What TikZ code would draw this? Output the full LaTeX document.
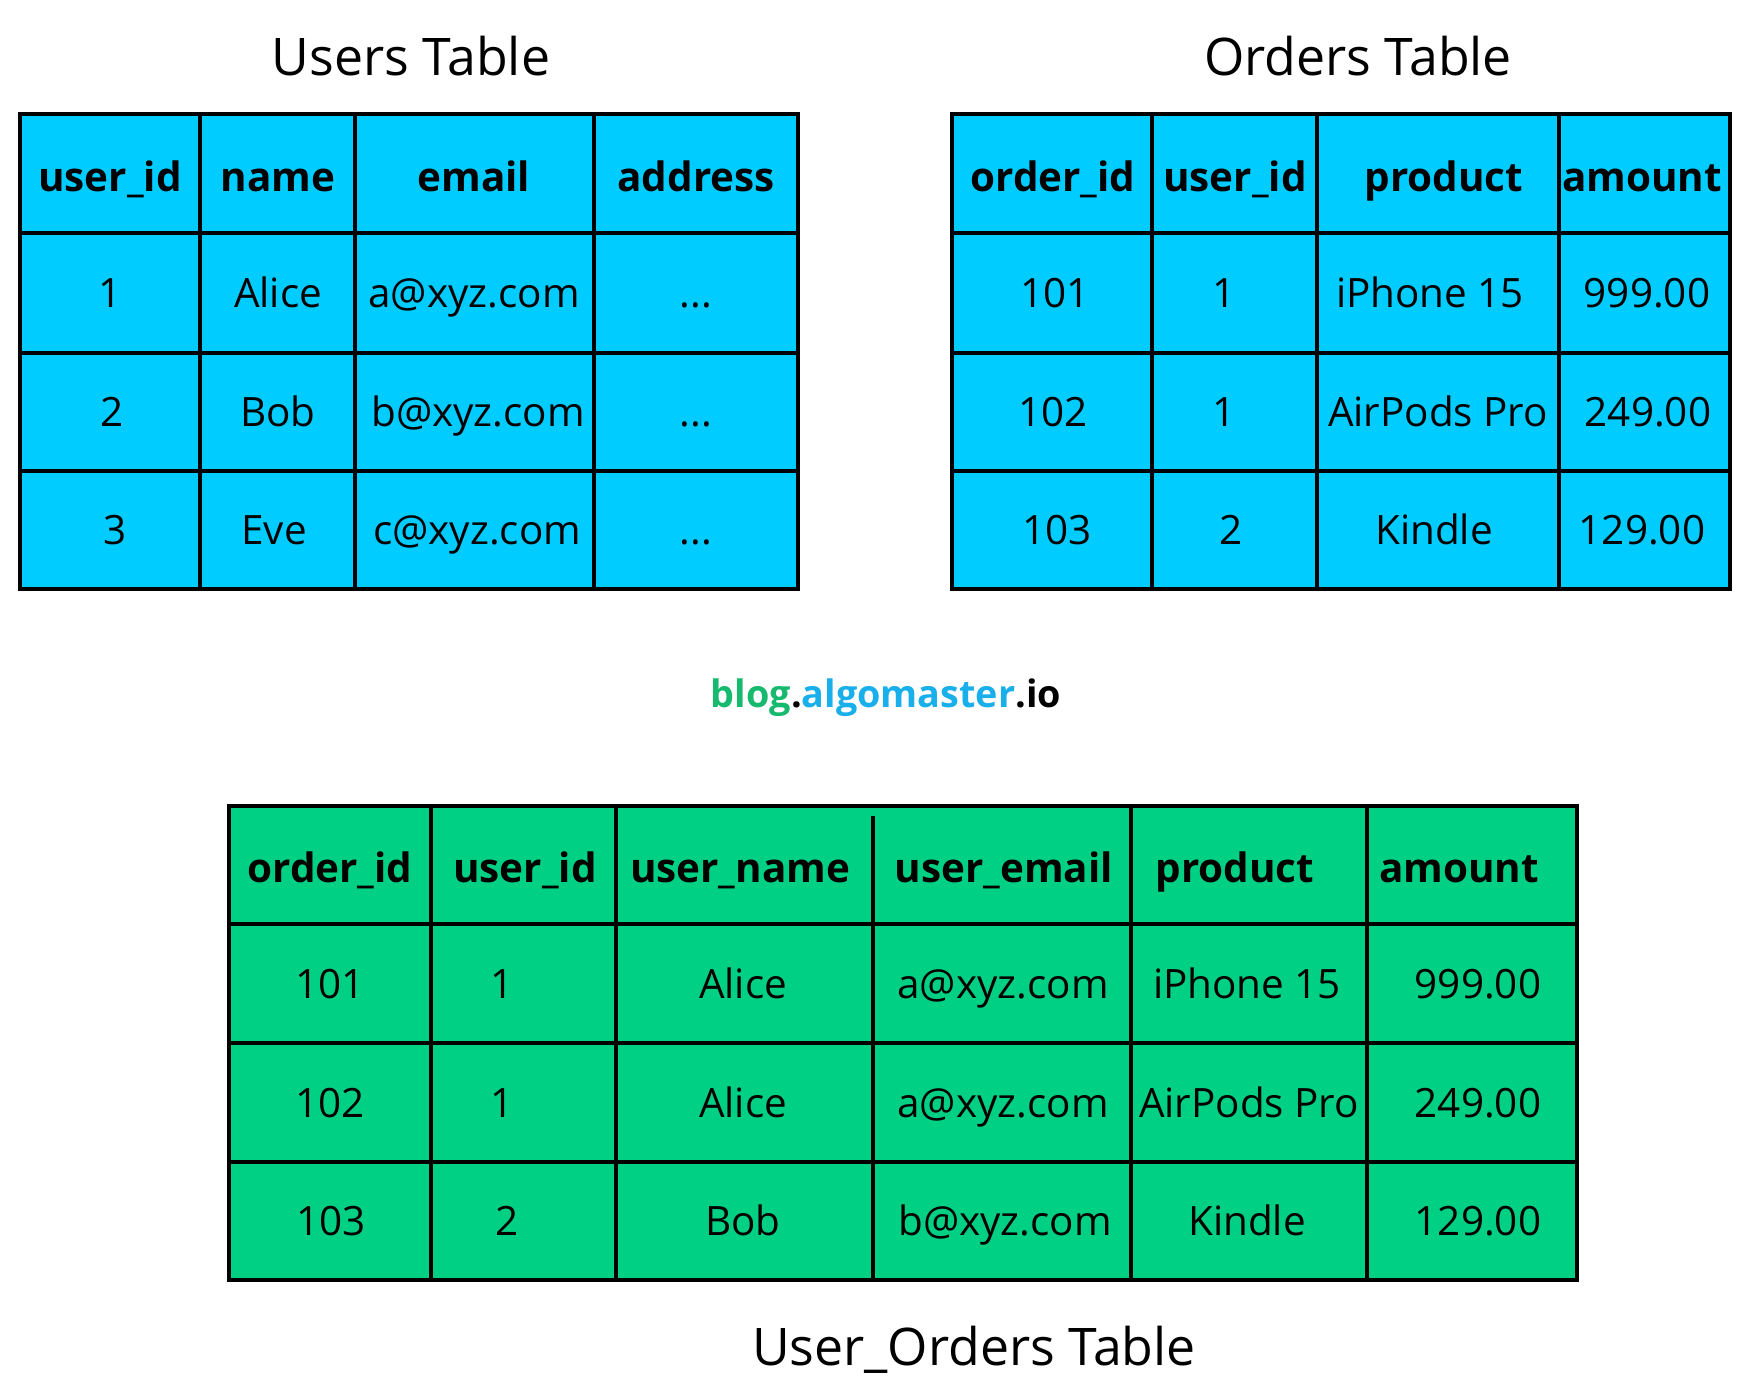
\documentclass[tikz,border=0pt]{standalone}
\usepackage{fontspec}
\setmainfont{Open Sans}
\definecolor{usercyan}{RGB}{0,204,255}
\definecolor{joingreen}{RGB}{0,208,132}
\definecolor{wmgreen}{RGB}{22,185,110}
\definecolor{wmblue}{RGB}{25,175,235}
\begin{document}
\begin{tikzpicture}[x=0.02cm,y=-0.02cm,inner sep=0pt,outer sep=0pt,
tabline/.style={line width=2.2pt,line cap=rect},
cell/.style={font=\fontsize{23}{28}\selectfont,text height=16.5pt,text depth=0pt},
head/.style={cell,font=\bfseries\fontsize{23}{28}\selectfont,text height=20pt},
tabtitle/.style={font=\fontsize{29.5}{34}\selectfont,text height=21pt,text depth=0pt}]
\useasboundingbox (0,0) rectangle (1750,1398);
\draw[tabline,fill=usercyan] (20,114) rectangle (798,589);
\draw[tabline] (20,233) -- (798,233) (20,353) -- (798,353) (20,471) -- (798,471);
\draw[tabline] (200,114) -- (200,589) (355,114) -- (355,589) (594,114) -- (594,589);
\draw[tabline,fill=usercyan] (952,114) rectangle (1730,589);
\draw[tabline] (952,233) -- (1730,233) (952,353) -- (1730,353) (952,471) -- (1730,471);
\draw[tabline] (1152,114) -- (1152,589) (1317,114) -- (1317,589) (1559,114) -- (1559,589);
\draw[tabline,fill=joingreen] (229,806) rectangle (1577,1280);
\draw[tabline] (229,924) -- (1577,924) (229,1043) -- (1577,1043) (229,1162) -- (1577,1162);
\draw[tabline] (431,806) -- (431,1280) (616,806) -- (616,1280) (873,818) -- (873,1280);
\draw[tabline] (1131,806) -- (1131,1280) (1367,806) -- (1367,1280);
\draw (411,57.5) node[tabtitle] (utitle) {Users Table};
\draw (110,173.5) node[head] (uh1) {user\_id};
\draw (278,173.5) node[head] (uh2) {name};
\draw (474,173.5) node[head] (uh3) {email};
\draw (696,173.5) node[head] (uh4) {address};
\draw (110,293) node[cell] (u11) {1};
\draw (278,293) node[cell] (u12) {Alice};
\draw (474,293) node[cell] (u13) {a@xyz.com};
\draw (696,293) node[cell] (u14) {...};
\draw (112,412) node[cell] (u21) {2};
\draw (278,412) node[cell] (u22) {Bob};
\draw (478,412) node[cell] (u23) {b@xyz.com};
\draw (696,412) node[cell] (u24) {...};
\draw (115,530) node[cell] (u31) {3};
\draw (274,530) node[cell] (u32) {Eve};
\draw (477,530) node[cell] (u33) {c@xyz.com};
\draw (696,530) node[cell] (u34) {...};
\draw (1358,57.5) node[tabtitle] (otitle) {Orders Table};
\draw (1053,173.5) node[head] (oh1) {order\_id};
\draw (1235,173.5) node[head] (oh2) {user\_id};
\draw (1444,173.5) node[head] (oh3) {product};
\draw (1642,173.5) node[head] (oh4) {amount};
\draw (1055,293) node[cell] (o11) {101};
\draw (1224,293) node[cell] (o12) {1};
\draw (1430,293) node[cell] (o13) {iPhone 15};
\draw (1647,293) node[cell] (o14) {999.00};
\draw (1053,412) node[cell] (o21) {102};
\draw (1224,412) node[cell] (o22) {1};
\draw (1438,412) node[cell] (o23) {AirPods Pro};
\draw (1648,412) node[cell] (o24) {249.00};
\draw (1057,530) node[cell] (o31) {103};
\draw (1231,530) node[cell] (o32) {2};
\draw (1434,530) node[cell] (o33) {Kindle};
\draw (1642,530) node[cell] (o34) {129.00};
\draw (886,707) node[anchor=base,font=\bfseries\fontsize{21.5}{26}\selectfont] (wm)
  {\textcolor{wmgreen}{blog}.\textcolor{wmblue}{algomaster}.io};
\draw (330,865) node[head] (jh1) {order\_id};
\draw (525,865) node[head] (jh2) {user\_id};
\draw (740,865) node[head] (jh3) {user\_name};
\draw (1004,865) node[head] (jh4) {user\_email};
\draw (1235,865) node[head] (jh5) {product};
\draw (1459,865) node[head] (jh6) {amount};
\draw (330,983.5) node[cell] (j11) {101};
\draw (502,983.5) node[cell] (j12) {1};
\draw (743,983.5) node[cell] (j13) {Alice};
\draw (1003,983.5) node[cell] (j14) {a@xyz.com};
\draw (1247,983.5) node[cell] (j15) {iPhone 15};
\draw (1478,983.5) node[cell] (j16) {999.00};
\draw (330,1102.5) node[cell] (j21) {102};
\draw (502,1102.5) node[cell] (j22) {1};
\draw (743,1102.5) node[cell] (j23) {Alice};
\draw (1003,1102.5) node[cell] (j24) {a@xyz.com};
\draw (1249,1102.5) node[cell] (j25) {AirPods Pro};
\draw (1478,1102.5) node[cell] (j26) {249.00};
\draw (331,1221) node[cell] (j31) {103};
\draw (507,1221) node[cell] (j32) {2};
\draw (743,1221) node[cell] (j33) {Bob};
\draw (1005,1221) node[cell] (j34) {b@xyz.com};
\draw (1247,1221) node[cell] (j35) {Kindle};
\draw (1478,1221) node[cell] (j36) {129.00};
\draw (974,1347.5) node[tabtitle] (jtitle) {User\_Orders Table};
\end{tikzpicture}
\end{document}
